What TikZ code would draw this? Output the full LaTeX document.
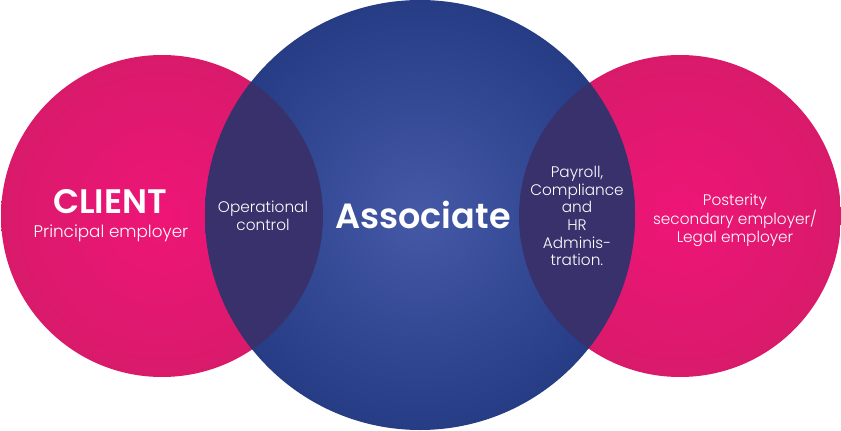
\documentclass[tikz,border=0pt]{standalone}
\usepackage{fontspec}
\setmainfont{Poppins}
\newfontfamily\lightfont{Poppins Light}
\newfontfamily\boldfont{Poppins SemiBold}
\definecolor{pinkin}{HTML}{EE1577}
\definecolor{pinkout}{HTML}{D91A6B}
\definecolor{bluein}{HTML}{4559A7}
\definecolor{blueout}{HTML}{263C85}
\definecolor{overlap}{HTML}{38316B}
\tikzset{
  pinkcircle/.style={circle, minimum size=322pt, inner sep=0pt, shading=radial, inner color=pinkin, outer color=pinkout},
  bluecircle/.style={circle, minimum size=430pt, inner sep=0pt, shading=radial, inner color=bluein, outer color=blueout},
  lbl/.style={text=white, align=center, font=\lightfont\fontsize{15.3}{17.6}\selectfont},
  big/.style={text=white, font=\boldfont\fontsize{34}{38}\selectfont}
}
\begin{document}
\begin{tikzpicture}[x=1pt,y=-1pt]
\useasboundingbox (0,0) rectangle (841,431);
\node[pinkcircle] (client) at (162,216) {};
\node[pinkcircle] (legal) at (680,216) {};
\node[bluecircle] (assoc) at (420,215) {};
\begin{scope}
  \clip (162,216) circle (161pt);
  \fill[overlap] (420,215) circle (215pt);
\end{scope}
\begin{scope}
  \clip (680,216) circle (161pt);
  \fill[overlap] (420,215) circle (215pt);
\end{scope}
\node[big] (clienttitle) at (110,202) {CLIENT};
\node[lbl, font=\lightfont\fontsize{16.8}{19}\selectfont] (clientsub) at (111,233) {Principal employer};
\node[lbl] (opctrl) at (263,216) {Operational\\control};
\node[big, font=\boldfont\fontsize{35}{40}\selectfont] (assoctitle) at (423,215) {Associate};
\node[lbl] (payroll) at (577,216) {Payroll,\\Compliance\\and\\HR\\Adminis-\\tration.};
\node[lbl] (posterity) at (735,220) {Posterity\\secondary employer/\\Legal employer};
\end{tikzpicture}
\end{document}
